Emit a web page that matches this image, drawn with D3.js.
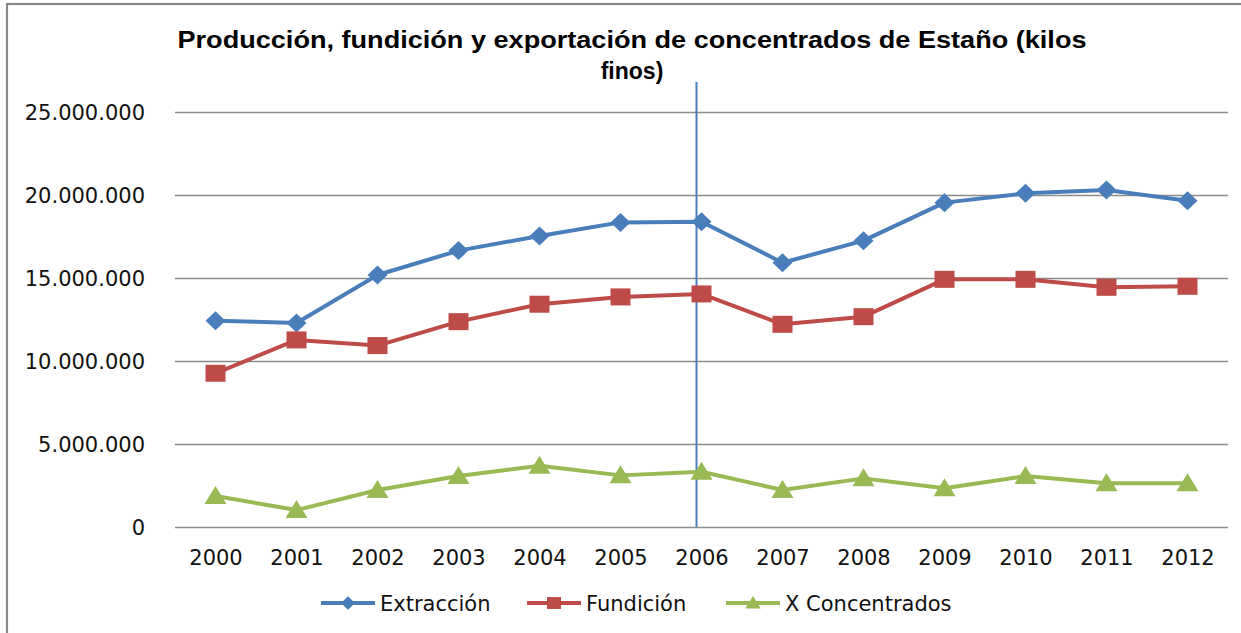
<!DOCTYPE html>
<html>
<head>
<meta charset="utf-8">
<script src="https://cdn.jsdelivr.net/npm/d3@7"></script>
<style>
  html, body { margin: 0; padding: 0; background: #fff; }
  svg { display: block; }
</style>
</head>
<body>
<svg id="chart"></svg>
<script>
// Data
const years = ["2000", "2001", "2002", "2003", "2004", "2005", "2006",
  "2007", "2008", "2009", "2010", "2011", "2012"];
const extraccion = [12430000, 12290000, 15180000, 16650000, 17530000, 18350000,
  18390000, 15920000, 17250000, 19540000, 20100000, 20300000, 19660000];
const fundicion = [9260000, 11270000, 10930000, 12370000, 13420000, 13860000,
  14040000, 12210000, 12670000, 14920000, 14920000, 14440000, 14500000];
const concentrados = [1870000, 1020000, 2230000, 3070000, 3690000, 3110000,
  3330000, 2230000, 2930000, 2330000, 3070000, 2630000, 2630000];
const yTicks = [0, 5000000, 10000000, 15000000, 20000000, 25000000];
const titleLines = ["Producción, fundición y exportación de concentrados de Estaño (kilos", "finos)"];
const markerYear = "2006";

const series = [
  { name: "Extracción", values: extraccion, color: "#4A7EBB", marker: "diamond" },
  { name: "Fundición", values: fundicion, color: "#BE4B48", marker: "square" },
  { name: "X Concentrados", values: concentrados, color: "#98B954", marker: "triangle" },
];

const WIDTH = 1241;
const HEIGHT = 633;
const plot = { left: 175, right: 1228, top: 112, bottom: 527 };

const svg = d3.select("#chart")
  .attr("width", WIDTH)
  .attr("height", HEIGHT)
  .style("font-family", "'DejaVu Sans', sans-serif");

// Outer chart border (only left and top edges are inside the picture)
svg.append("rect")
  .attr("x", 7).attr("y", 4)
  .attr("width", WIDTH + 20).attr("height", HEIGHT + 20)
  .attr("fill", "none")
  .attr("stroke", "#8a8a8a")
  .attr("stroke-width", 2.2);

const x = d3.scalePoint().domain(years).range([plot.left, plot.right]).padding(0.5);
const y = d3.scaleLinear().domain([0, 25000000]).range([plot.bottom, plot.top]);

const fmt = (v) => d3.format(",")(v).replace(/,/g, ".");

// Y axis with gridlines
svg.append("g")
  .attr("transform", `translate(${plot.left},0)`)
  .call(d3.axisLeft(y).tickValues(yTicks).tickFormat(fmt)
    .tickSize(-(plot.right - plot.left)).tickPadding(30))
  .call((g) => {
    g.select(".domain").remove();
    g.selectAll(".tick line").attr("stroke", "#8c8c8c").attr("stroke-width", 1.3);
    g.selectAll(".tick text")
      .attr("font-family", "'DejaVu Sans', sans-serif")
      .attr("font-size", "21px")
      .attr("fill", "#111")
      .attr("dy", "0.36em");
  });

// X axis labels
svg.append("g")
  .attr("transform", `translate(0,${plot.bottom})`)
  .call(d3.axisBottom(x).tickSize(0).tickPadding(23))
  .call((g) => {
    g.select(".domain").remove();
    g.selectAll(".tick text")
      .attr("font-family", "'DejaVu Sans', sans-serif")
      .attr("font-size", "21px")
      .attr("fill", "#111");
  });

// Vertical marker line at 2006
svg.append("line")
  .attr("x1", x(markerYear) - 5).attr("x2", x(markerYear) - 5)
  .attr("y1", y(26800000)).attr("y2", plot.bottom)
  .attr("stroke", "#4A7EBB")
  .attr("stroke-width", 2);

function drawMarker(g, type, color, scale) {
  const s = scale || 1;
  if (type === "diamond") {
    g.append("path")
      .attr("d", `M0,${-9.5 * s}L${10 * s},0L0,${9.5 * s}L${-10 * s},0Z`)
      .attr("fill", color);
  } else if (type === "square") {
    g.append("rect")
      .attr("x", -10 * s).attr("y", -8.5 * s)
      .attr("width", 20 * s).attr("height", 17 * s)
      .attr("fill", color);
  } else {
    g.append("path")
      .attr("d", `M0,${-10 * s}L${11 * s},${8 * s}L${-11 * s},${8 * s}Z`)
      .attr("fill", color);
  }
}

const line = d3.line()
  .x((d, i) => x(years[i]))
  .y((d) => y(d));

const gSeries = svg.append("g");
series.forEach((s) => {
  gSeries.append("path")
    .attr("d", line(s.values))
    .attr("fill", "none")
    .attr("stroke", s.color)
    .attr("stroke-width", 4)
    .attr("stroke-linejoin", "round");
  s.values.forEach((v, i) => {
    const m = gSeries.append("g")
      .attr("transform", `translate(${x(years[i])},${y(v)})`);
    drawMarker(m, s.marker, s.color, 1);
  });
});

// Title
const title = svg.append("text")
  .attr("text-anchor", "middle")
  .attr("font-family", "'Liberation Sans', Arial, sans-serif")
  .attr("font-weight", "bold")
  .attr("font-size", "23px")
  .attr("fill", "#000");
title.append("tspan").attr("x", 632).attr("y", 48).text(titleLines[0]);
title.append("tspan").attr("x", 632).attr("y", 79).text(titleLines[1]);
const t0 = title.select("tspan").node();
if (t0.getComputedTextLength() > 0) {
  d3.select(t0).attr("textLength", 909).attr("lengthAdjust", "spacingAndGlyphs");
}

// Legend
const legendX = [321, 527, 726];
const legend = svg.append("g");
series.forEach((s, i) => {
  const g = legend.append("g").attr("transform", `translate(${legendX[i]},603)`);
  g.append("line")
    .attr("x1", 0).attr("x2", 54)
    .attr("stroke", s.color)
    .attr("stroke-width", 4);
  const m = g.append("g").attr("transform", "translate(27,0)");
  drawMarker(m, s.marker, s.color, 0.7);
  g.append("text")
    .attr("x", 59)
    .attr("dy", "0.36em")
    .attr("font-size", "21px")
    .attr("fill", "#111")
    .text(s.name);
});
</script>
</body>
</html>
